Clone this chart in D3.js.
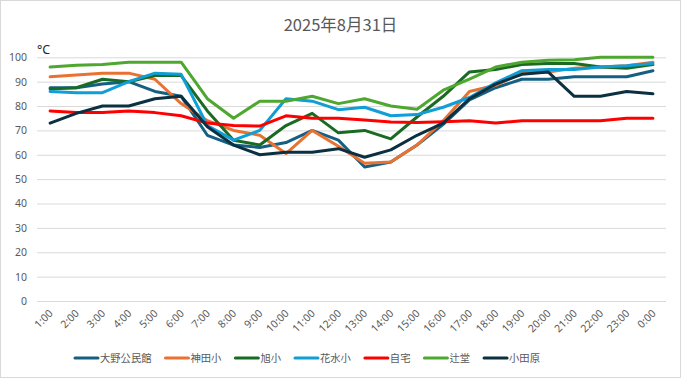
<!DOCTYPE html>
<html><head><meta charset="utf-8">
<script src="https://cdn.jsdelivr.net/npm/d3@7"></script>
<style>
html,body{margin:0;padding:0;background:#fff;}
svg{display:block;font-family:"Noto Sans CJK JP","Noto Sans",sans-serif;}
</style></head>
<body>
<svg id="chart" width="681" height="378"></svg>
<script>
const title = "2025年8月31日";
const unitLabel = "°C";
const categories = ["1:00","2:00","3:00","4:00","5:00","6:00","7:00","8:00","9:00","10:00","11:00","12:00",
  "13:00","14:00","15:00","16:00","17:00","18:00","19:00","20:00","21:00","22:00","23:00","0:00"];
const yTicks = [0,10,20,30,40,50,60,70,80,90,100];
const seriesNames = ["大野公民館","神田小","旭小","花水小","自宅","辻堂","小田原"];
const seriesColors = ["#156082","#E97132","#196B24","#0F9ED5","#FF0000","#4EA72E","#0B3041"];
const oono    = [87.5,87.5,89,90,86,84,68,64,63,65,70,66,55,57,64,72.5,82.5,87.5,91,91,92,92,92,94.5];
const kanda   = [92,92.7,93.5,93.5,91,81,74,70,68,60.5,70,63.5,56.5,57,64,74,86,88.5,93.5,94,95.5,96,96.5,98];
const asahi   = [87,87.5,91,90,92.5,92.5,78,66,64,72,77,69,70,66.5,75.5,84,94,95,97,97.5,97.5,96,95.5,97];
const hanamizu= [86,85.5,85.5,90,93.5,93,72,66,70,83,82,78.5,79.5,76,76.5,79.5,83.5,89.5,94.5,95,95,96,96.5,97.5];
const jitaku  = [78,77.3,77.3,78,77.3,76,73,72,71.8,76,75,75,74.3,73.5,73.2,73.6,74,73,74,74,74,74,75,75];
const tsujido = [96,96.7,97,98,98,98,83,75,82,82,84,81,83,80,78.7,86.5,91,96,98,98.8,99,100,100,100];
const odawara = [73,77,80,80,83,84,71.5,64,60,61,61,62.5,59,62,68,73,83,89,93,94,84,84,86,85];
const seriesValues = [oono,kanda,asahi,hanamizu,jitaku,tsujido,odawara];

(function(){
const svg = d3.select("#chart");
const W = 681, H = 378;
const pL = 37, pR = 666, pT = 57.3, pB = 301;

svg.append("rect").attr("x",0.5).attr("y",0.5).attr("width",W-1).attr("height",H-1)
  .attr("fill","#fff").attr("stroke","#d9d9d9");

const x = d3.scalePoint().domain(categories).range([pL,pR]).padding(0.5);
const y = d3.scaleLinear().domain([0,100]).range([pB,pT]);

const yAxis = d3.axisLeft(y).tickValues(yTicks).tickSize(-(pR-pL)).tickPadding(10);
const gy = svg.append("g").attr("transform",`translate(${pL},0)`).call(yAxis);
gy.select(".domain").remove();
gy.selectAll(".tick line").attr("stroke","#d9d9d9").attr("stroke-width",1);
gy.selectAll(".tick text").attr("fill","#595959").attr("font-size","10.5px")
  .attr("font-family","'Noto Sans',sans-serif").attr("x",-10);

const xAxis = d3.axisBottom(x).tickSize(0).tickPadding(0);
const gx = svg.append("g").attr("transform",`translate(0,${pB})`).call(xAxis);
gx.select(".domain").remove();
gx.selectAll(".tick text").attr("fill","#595959").attr("font-size","10.5px")
  .attr("font-family","'Noto Sans',sans-serif")
  .attr("text-anchor","end").attr("dy","0")
  .attr("transform","translate(3,13) rotate(-45)");

const line = d3.line().x((d,i)=>x(categories[i])).y(d=>y(d));
seriesValues.forEach((vals,k)=>{
  svg.append("path").datum(vals).attr("d",line).attr("fill","none")
    .attr("stroke",seriesColors[k]).attr("stroke-width",3)
    .attr("stroke-linejoin","round").attr("stroke-linecap","round");
});

svg.append("text").attr("x",340.5).attr("y",31).attr("text-anchor","middle")
  .attr("fill","#595959").attr("font-size","16.5px").text(title);
svg.append("text").attr("x",37).attr("y",54).attr("fill","#262626")
  .attr("font-size","12.5px").attr("font-family","'Noto Sans',sans-serif").text(unitLabel);

const lg = svg.append("g");
let lx = 75; const ly = 358;
seriesNames.forEach((name,k)=>{
  lg.append("line").attr("x1",lx).attr("x2",lx+23).attr("y1",ly).attr("y2",ly)
    .attr("stroke",seriesColors[k]).attr("stroke-width",3).attr("stroke-linecap","round");
  const t = lg.append("text").attr("x",lx+25).attr("y",ly+4).attr("fill","#595959")
    .attr("font-size","10.3px").text(name);
  lx += 25 + t.node().getComputedTextLength() + 14;
});
})();
</script>
</body></html>
